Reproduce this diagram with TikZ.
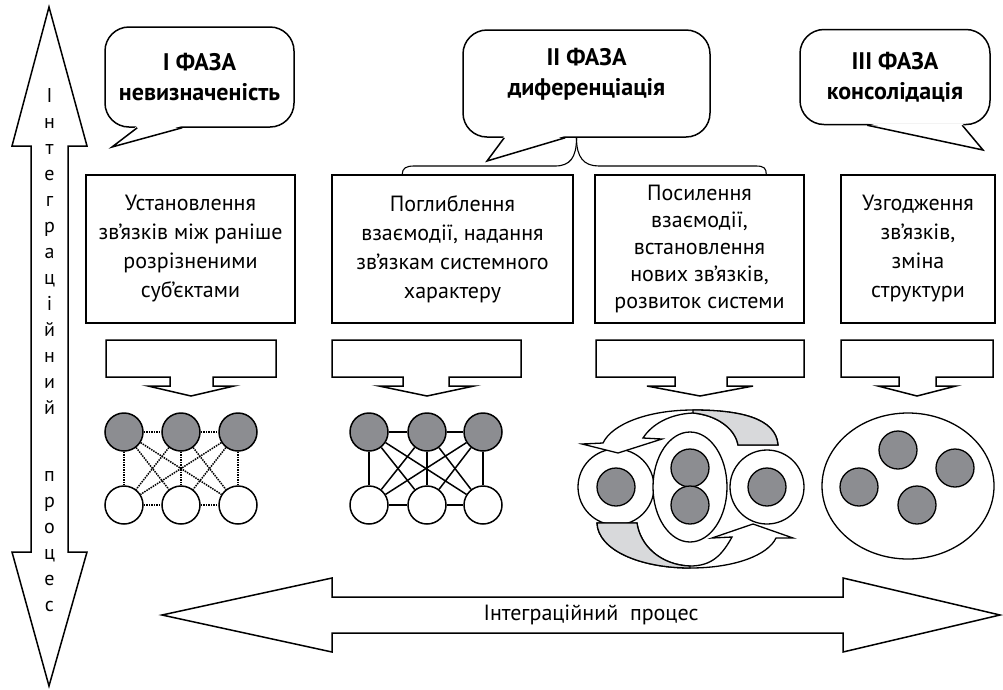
\documentclass[tikz,border=0pt]{standalone}
\usepackage{fontspec}
\setmainfont{PT Sans}
\usetikzlibrary{calc, shapes.geometric}

\definecolor{unitgray}{RGB}{140,141,145}
\definecolor{ribbongray}{RGB}{216,217,219}

\tikzset{
  stage/.style={draw, line width=1.5pt, align=center, inner sep=0pt,
    minimum height=148pt, font=\fontsize{22}{29}\selectfont},
  phase/.style={draw, line width=1.5pt, rounded corners=24pt, fill=white,
    align=center, inner sep=0pt, font=\bfseries\fontsize{24}{30}\selectfont},
  unit/.style={circle, draw, line width=1.5pt, minimum size=38pt, inner sep=0pt},
  fullunit/.style={unit, fill=unitgray},
  weak/.style={line width=1.5pt, densely dotted},
  firm/.style={line width=1.5pt},
  shell/.style={draw, line width=1.3pt, fill=white},
  ribbon/.style={draw, line width=1.3pt, fill=ribbongray},
}

\begin{document}
\begin{tikzpicture}[x=1pt, y=-1pt, line join=miter]
\useasboundingbox (0,0) rectangle (1003,689);

% vertical arrow
\draw[firm] (49,7) -- (87,146) -- (68,146) -- (68,552) -- (87,552) -- (49,686)
  -- (12,552) -- (31,552) -- (31,146) -- (12,146) -- cycle;
\foreach \c [count=\n from 0] in {І,н,т,е,г,р,а,ц,і,й,н,и,й}
  \node[anchor=base, font=\fontsize{20}{20}\selectfont] at (49.5,102+26*\n) {\c};
\foreach \c [count=\n from 0] in {п,р,о,ц,е,с}
  \node[anchor=base, font=\fontsize{20}{20}\selectfont] at (49.5,481+26*\n) {\c};

% horizontal arrow
\draw[firm] (162,615) -- (332,578) -- (332,597) -- (843,597) -- (843,578) -- (1000,615)
  -- (843,652) -- (843,633) -- (332,633) -- (332,652) -- cycle;
\node[font=\fontsize{22}{22}\selectfont] (proc) at (591,615) {Інтеграційний\ \ процес};

% phases
\node[phase, minimum width=189pt, minimum height=100pt] (ph1) at (199.5,77) {І ФАЗА\\невизначеність};
\node[phase, minimum width=247pt, minimum height=107pt, text depth=24pt] (ph2) at (586.5,83.5) {ІІ ФАЗА\\диференціація};
\node[phase, minimum width=190pt, minimum height=95pt] (ph3) at (895,77) {ІІІ ФАЗА\\консолідація};

% tails
\fill[white] ($(ph1.south west)+(33,-2)$) -- (112,147) -- ($(ph1.south west)+(78,-2)$) -- cycle;
\draw[firm] ($(ph1.south west)+(33,0)$) -- (112,147) -- ($(ph1.south west)+(78,0)$);
\fill[white] ($(ph2.south west)+(42,-2)$) -- (487,161) -- ($(ph2.south west)+(103,-2)$) -- cycle;
\draw[firm] ($(ph2.south west)+(42,0)$) -- (487,161) -- ($(ph2.south west)+(103,0)$);
\fill[white] ($(ph3.south west)+(68,-2)$) -- (983,150) -- ($(ph3.south west)+(163,-2)$) -- cycle;
\draw[firm] ($(ph3.south west)+(68,0)$) -- (983,150) -- ($(ph3.south west)+(163,0)$);

% stages
\node[stage, minimum width=209pt] (st1) at (190.5,249) {Установлення\\зв’язків між раніше\\розрізненими\\суб’єктами};
\node[stage, minimum width=241pt] (st2) at (452.5,249) {Поглиблення\\взаємодії, надання\\зв’язкам системного\\характеру};
\node[stage, minimum width=209pt, font=\fontsize{22}{27}\selectfont] (st3) at (699.5,249) {Посилення\\взаємодії,\\встановлення\\нових зв’язків,\\розвиток системи};
\node[stage, minimum width=154pt] (st4) at (918,249) {Узгодження\\зв’язків,\\зміна\\структури};

% brace
\coordinate (br) at ($(ph2.south)+(-10,0)$);
\draw[line width=1.1pt] (br) .. controls ++(0,20) and (570,166) .. (555,166) -- (414,166)
  .. controls (406,166) and ($(st2.north west)+(71,-6)$) .. ($(st2.north west)+(71,0)$);
\draw[line width=1.1pt] (br) .. controls ++(0,20) and (584,166) .. (599,166) -- (756,166)
  .. controls (764,166) and ($(st3.north west)+(172,-6)$) .. ($(st3.north west)+(172,0)$);

% block arrows
\foreach \l/\r/\sl/\sr/\hl/\hr/\tx in {106/276/170/213/148/234/191,
    332/521/403/449/379/474/427, 596/804/675/727/647/753/700, 841/993/899/936/878/956/917}
  \draw[firm] (\l,340) -- (\r,340) -- (\r,377) -- (\sr,377) -- (\sr,386) -- (\hr,386)
    -- (\tx,396) -- (\hl,386) -- (\sl,386) -- (\sl,377) -- (\l,377) -- cycle;

% phase I
\foreach \i/\x in {1/124,2/181,3/238} {
  \node[fullunit] (a\i) at (\x,432) {};
  \node[unit] (b\i) at (\x,505) {};
}
\foreach \i in {1,2,3}
  \foreach \j in {1,2,3}
    \draw[weak] (a\i) -- (b\j);
\draw[weak] (a1) -- (a2) (a2) -- (a3) (b1) -- (b2) (b2) -- (b3);

% phase II
\foreach \i/\x in {1/369,2/427,3/483} {
  \node[fullunit] (c\i) at (\x,432) {};
  \node[unit] (d\i) at (\x,505) {};
}
\foreach \i in {1,2,3}
  \foreach \j in {1,2,3}
    \draw[firm] (c\i) -- (d\j);
\draw[firm] (c1) -- (c2) (c2) -- (c3) (d1) -- (d2) (d2) -- (d3);

% phase III
\draw[shell] (616,487) circle (38);
\draw[shell] (690,487) ellipse (37 and 55);
\draw[shell] (767,487) circle (37);
\foreach \x/\y in {616/487, 690/468, 690/505, 767/487}
  \draw[line width=1.3pt, fill=unitgray] (\x,\y) circle (19);
% upper turn
\draw[shell] (778,445) .. controls (776,418) and (740,410) .. (693,410)
  .. controls (648,410) and (612,424) .. (603,443) -- (582,444) -- (618,453) -- (662,439)
  -- (643,438) .. controls (652,424) and (670,414) .. (693,413)
  .. controls (716,415) and (735,428) .. (738,445) -- cycle;
\draw[ribbon] (693,410) .. controls (740,410) and (776,418) .. (778,445) -- (738,445)
  .. controls (735,428) and (716,415) .. (693,413) -- cycle;
% lower turn
\draw[shell] (597,523) .. controls (598,550) and (640,568) .. (690,568)
  .. controls (735,568) and (768,555) .. (776,538) -- (793,538) -- (753,524) -- (712,538)
  -- (732,537) .. controls (722,555) and (712,566) .. (690,566)
  .. controls (660,565) and (640,545) .. (637,523) -- cycle;
\draw[ribbon] (690,566) .. controls (660,565) and (640,545) .. (637,523) -- (597,523)
  .. controls (598,550) and (640,568) .. (690,568) -- cycle;

% phase IV
\node[ellipse, draw, line width=1.3pt, minimum width=172pt, minimum height=146pt, inner sep=0pt] (whole) at (908,486) {};
\foreach \x/\y in {898/450, 955/468, 859/487, 917/505}
  \draw[line width=1.3pt, fill=unitgray] (\x,\y) circle (19);

\end{tikzpicture}
\end{document}
